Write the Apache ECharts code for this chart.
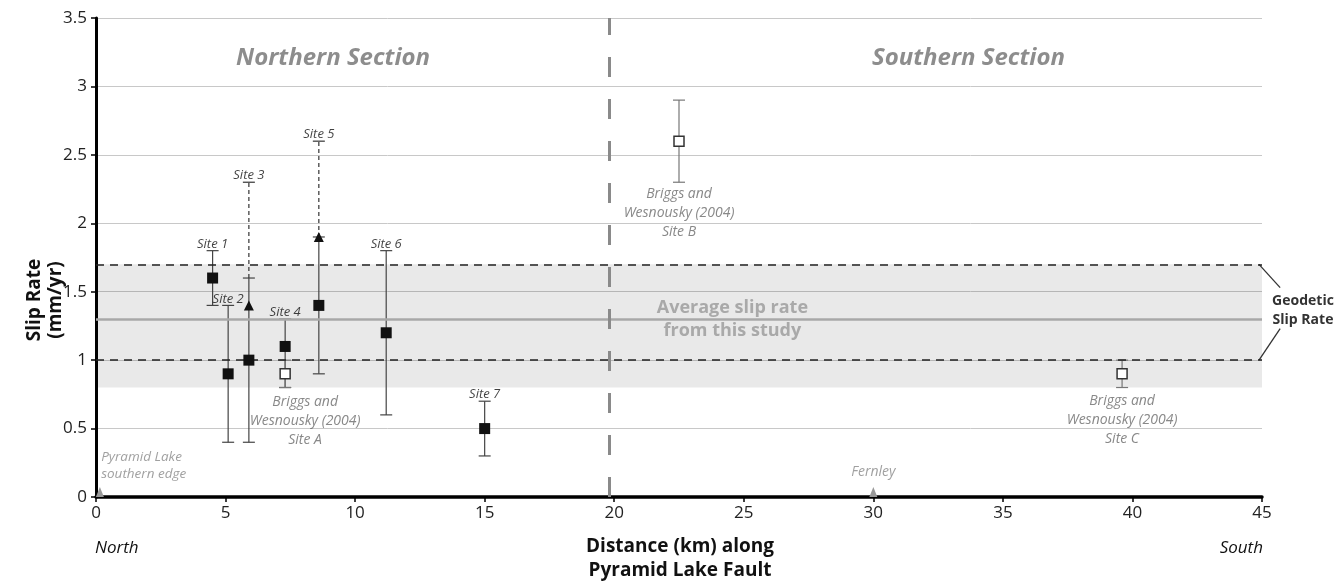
<!DOCTYPE html>
<html>
<head>
<meta charset="utf-8">
<script src="https://cdn.jsdelivr.net/npm/echarts@6/dist/echarts.min.js"></script>
<style>
html,body{margin:0;padding:0;background:#fff}
#main{width:1344px;height:581px}
</style>
</head>
<body>
<div id="main"></div>
<script>
// sites of this study
var siteNames = ['Site 1', 'Site 2', 'Site 3', 'Site 4', 'Site 5', 'Site 6', 'Site 7'];
var siteDist = [4.5, 5.1, 5.9, 7.3, 8.6, 11.2, 15.0];
var siteRate = [1.6, 0.9, 1.0, 1.1, 1.4, 1.2, 0.5];
var siteLow = [1.4, 0.4, 0.4, 0.8, 0.9, 0.6, 0.3];
var siteHigh = [1.8, 1.4, 1.6, 1.3, 1.9, 1.8, 0.7];

// maximum estimates (triangles) with dashed upper ranges
var maxDist = [5.9, 8.6];
var maxRate = [1.4, 1.9];
var maxFrom = [1.6, 1.9];
var maxTo = [2.3, 2.6];

// Briggs and Wesnousky (2004)
var briggsNames = ['Site A', 'Site B', 'Site C'];
var briggsDist = [7.3, 22.5, 39.6];
var briggsRate = [0.9, 2.6, 0.9];
var briggsLow = [0.8, 2.3, 0.8];
var briggsHigh = [1.0, 2.9, 1.0];
var briggsNoteX = [8.07, 22.5, 39.6];
var briggsNoteY = [0.555, 2.075, 0.56];

// reference values
var geodeticLow = 0.8;
var geodeticHigh = 1.7;
var dashLevels = [1.7, 1.0];
var bracketTips = [1.53, 1.23];
var avgRate = 1.3;
var sectionBreak = 19.8;

var sectionNames = ['Northern Section', 'Southern Section'];
var sectionX = [9.15, 33.67];
var sectionY = 3.21;

var placeNames = ['Pyramid Lake\nsouthern edge', 'Fernley'];
var placeDist = [0.15, 30];

var xTicks = [0, 5, 10, 15, 20, 25, 30, 35, 40, 45];
var yTicks = [0, 0.5, 1, 1.5, 2, 2.5, 3, 3.5];

var FONT = 'Open Sans';

var chart = echarts.init(document.getElementById('main'));

function barRenderer(color, dashed, bottomCap) {
  return function (params, api) {
    var x = api.value(0);
    var lo = api.coord([x, api.value(1)]);
    var hi = api.coord([x, api.value(2)]);
    var w = 6;
    var kids = [
      {type: 'line', shape: {x1: lo[0], y1: lo[1], x2: hi[0], y2: hi[1]},
        style: {stroke: color, lineWidth: 1.2, lineDash: dashed ? [4, 3] : null}},
      {type: 'line', shape: {x1: hi[0] - w, y1: hi[1], x2: hi[0] + w, y2: hi[1]},
        style: {stroke: color, lineWidth: 1.2}}
    ];
    if (bottomCap) {
      kids.push({type: 'line', shape: {x1: lo[0] - w, y1: lo[1], x2: lo[0] + w, y2: lo[1]},
        style: {stroke: color, lineWidth: 1.2}});
    }
    return {type: 'group', children: kids};
  };
}

var siteLabelData = siteDist.map(function (d, i) {
  var top = siteHigh[i];
  var k = maxDist.indexOf(d);
  if (k >= 0) top = Math.max(top, maxTo[k]);
  return [d, top, siteNames[i]];
});

var noteData = [];
sectionNames.forEach(function (s, i) {
  noteData.push({value: [sectionX[i], sectionY], label: {formatter: s, fontSize: 24, fontWeight: 'bold',
    fontStyle: 'italic', color: '#717171'}});
});
briggsNames.forEach(function (s, i) {
  noteData.push({value: [briggsNoteX[i], briggsNoteY[i]], label: {formatter: 'Briggs and\nWesnousky (2004)\n' + s,
    fontSize: 14, fontStyle: 'italic', color: '#6a6a6a', lineHeight: 19}});
});
noteData.push({value: [24.56, avgRate], label: {formatter: 'Average slip rate\nfrom this study',
  fontSize: 18, fontWeight: 'bold', color: '#999', lineHeight: 23}});
noteData.push({value: [placeDist[0] + 0.05, 0.23], label: {formatter: placeNames[0], align: 'left',
  fontSize: 13.5, fontStyle: 'italic', color: '#888', lineHeight: 17}});
noteData.push({value: [placeDist[1], 0.18], label: {formatter: placeNames[1],
  fontSize: 14, fontStyle: 'italic', color: '#888'}});

var option = {
  animation: false,
  backgroundColor: '#fff',
  textStyle: {fontFamily: FONT},
  grid: {left: 96, right: 82, top: 18, bottom: 84, outerBoundsMode: 'none'},
  xAxis: {
    type: 'value', min: 0, max: 45, interval: 5,
    axisLine: {lineStyle: {color: '#000', width: 3.5}},
    axisTick: {show: true, length: 5, lineStyle: {color: '#000', width: 1.5}},
    axisLabel: {fontSize: 17, color: '#222', margin: 8, fontFamily: FONT,
      formatter: function (v) { return xTicks.indexOf(v) >= 0 ? String(v) : ''; }},
    splitLine: {show: false}
  },
  yAxis: {
    type: 'value', min: 0, max: 3.5, interval: 0.5,
    axisLine: {show: true, lineStyle: {color: '#000', width: 3}},
    axisTick: {show: true, length: 5, lineStyle: {color: '#000', width: 1.5}},
    axisLabel: {fontSize: 17, color: '#222', margin: 9, fontFamily: FONT,
      formatter: function (v) { return yTicks.indexOf(v) >= 0 ? String(v) : ''; }},
    splitLine: {show: true, lineStyle: {color: '#c8c8c8', width: 1}}
  },
  graphic: [
    {type: 'text', x: 45, y: 300, rotation: Math.PI / 2,
      style: {text: 'Slip Rate\n(mm/yr)', font: 'bold 19px ' + FONT, fill: '#111',
        align: 'center', verticalAlign: 'middle', lineHeight: 21}},
    {type: 'text', x: 680, y: 559,
      style: {text: 'Distance (km) along\nPyramid Lake Fault', font: 'bold 19px ' + FONT, fill: '#111',
        align: 'center', verticalAlign: 'middle', lineHeight: 24}},
    {type: 'text', x: 95, y: 548,
      style: {text: 'North', font: 'italic 17px ' + FONT, fill: '#111', align: 'left', verticalAlign: 'middle'}},
    {type: 'text', x: 1263, y: 548,
      style: {text: 'South', font: 'italic 17px ' + FONT, fill: '#111', align: 'right', verticalAlign: 'middle'}},
    {type: 'text', x: 1303, y: 311,
      style: {text: 'Geodetic\nSlip Rate', font: 'bold 14px ' + FONT, fill: '#333',
        align: 'center', verticalAlign: 'middle', lineHeight: 19}}
  ],
  series: [
    {
      // geodetic band and reference lines
      type: 'scatter', data: [], silent: true, z: 1,
      markArea: {silent: true, itemStyle: {color: 'rgba(0,0,0,0.085)'},
        data: [[{yAxis: geodeticLow}, {yAxis: geodeticHigh}]]},
      markLine: {silent: true, symbol: 'none', label: {show: false},
        data: [
          {yAxis: avgRate, lineStyle: {color: '#a8a8a8', width: 2.5, type: 'solid'}},
          {yAxis: dashLevels[0], lineStyle: {color: '#222', width: 1.5, type: [8, 6]}},
          {yAxis: dashLevels[1], lineStyle: {color: '#222', width: 1.5, type: [8, 6]}},
          {xAxis: sectionBreak, lineStyle: {color: '#8a8a8a', width: 3, type: [20, 22]}}
        ]}
    },
    {
      // bracket for the geodetic slip rate
      type: 'custom', clip: false, silent: true, z: 3,
      renderItem: function (params, api) {
        var a = api.coord([45, api.value(0)]);
        var b = api.coord([45.7, api.value(1)]);
        return {type: 'line', shape: {x1: a[0] - 3, y1: a[1], x2: b[0], y2: b[1]},
          style: {stroke: '#333', lineWidth: 1.3}};
      },
      data: dashLevels.map(function (v, i) { return [v, bracketTips[i]]; })
    },
    {
      type: 'custom', z: 4, silent: true,
      renderItem: barRenderer('#444', false, true),
      data: siteDist.map(function (d, i) { return [d, siteLow[i], siteHigh[i]]; })
    },
    {
      type: 'custom', z: 4, silent: true,
      renderItem: barRenderer('#333', true, false),
      data: maxDist.map(function (d, i) { return [d, maxFrom[i], maxTo[i]]; })
    },
    {
      type: 'custom', z: 4, silent: true,
      renderItem: barRenderer('#777', false, true),
      data: briggsDist.map(function (d, i) { return [d, briggsLow[i], briggsHigh[i]]; })
    },
    {
      type: 'scatter', z: 6, symbol: 'rect', symbolSize: 10,
      itemStyle: {color: '#fff', borderColor: '#333', borderWidth: 1.5, opacity: 1},
      data: briggsDist.map(function (d, i) { return [d, briggsRate[i]]; })
    },
    {
      type: 'scatter', z: 7, symbol: 'rect', symbolSize: 11,
      itemStyle: {color: '#111', opacity: 1},
      data: siteDist.map(function (d, i) { return [d, siteRate[i]]; })
    },
    {
      type: 'scatter', z: 7, symbol: 'triangle', symbolSize: [10, 10],
      itemStyle: {color: '#111', opacity: 1},
      data: maxDist.map(function (d, i) { return [d, maxRate[i]]; })
    },
    {
      type: 'scatter', z: 5, symbol: 'triangle', symbolSize: [8, 10], symbolOffset: [0, -5],
      itemStyle: {color: '#999', opacity: 1}, clip: false,
      data: placeDist.map(function (d) { return [d, 0]; })
    },
    {
      type: 'scatter', z: 8, symbolSize: 0, silent: true, clip: false,
      label: {show: true, position: 'top', distance: 0, formatter: function (p) { return p.value[2]; },
        fontSize: 13, fontStyle: 'italic', color: '#111', fontFamily: FONT},
      data: siteLabelData
    },
    {
      type: 'scatter', z: 8, symbolSize: 0, silent: true, clip: false,
      label: {show: true, position: 'inside', fontFamily: FONT},
      data: noteData
    }
  ]
};
chart.setOption(option);
</script>
</body>
</html>
